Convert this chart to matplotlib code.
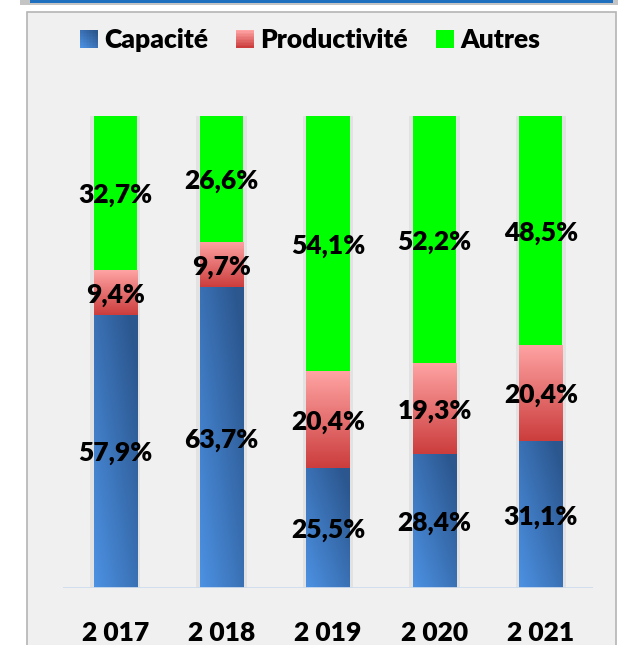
import numpy as np
import matplotlib
matplotlib.use("Agg")
import matplotlib.pyplot as plt
from matplotlib.patches import Rectangle
from matplotlib.legend_handler import HandlerBase

years = ["2 017", "2 018", "2 019", "2 020", "2 021"]
capacite = [57.9, 63.7, 25.5, 28.4, 31.1]
productivite = [9.4, 9.7, 20.4, 19.3, 20.4]
autres = [32.7, 26.6, 54.1, 52.2, 48.5]
series_names = ["Capacité", "Productivité", "Autres"]

plt.rcParams['font.family'] = ['Lato', 'DejaVu Sans']
FS = 19
FW = "heavy"

W, H = 618, 645
fig = plt.figure(figsize=(W / 100, H / 100), dpi=100)
fig.patch.set_facecolor("white")

# panel background and top frame
fig.patches.append(Rectangle((27 / W, -0.01), 589 / W, (645 - 12) / H + 0.01, transform=fig.transFigure,
                             facecolor="#f0f0f0", edgecolor="#b4b4b4", lw=1.2, zorder=-10))
fig.patches.append(Rectangle((20 / W, 1 - 5 / H), 598 / W, 5 / H, transform=fig.transFigure,
                             facecolor="#c4c4c4", edgecolor="none", zorder=-9))
fig.patches.append(Rectangle((30 / W, 1 - 2.5 / H), 583 / W, 2.5 / H, transform=fig.transFigure,
                             facecolor="#1f6fbf", edgecolor="none", zorder=-8))

ax = fig.add_axes([63 / W, (645 - 588) / H, 530 / W, 472 / H])
ax.set_facecolor("none")
ax.set_zorder(1)

x = np.arange(len(years))
bw = 0.405

blue_light = np.array([0.30, 0.57, 0.89])
blue_dark = np.array([0.17, 0.34, 0.56])
pink_top = np.array([1.0, 0.64, 0.64])
red_bot = np.array([0.80, 0.24, 0.24])


def blue_grad(n=64):
    u = np.linspace(0, 1, n)[None, :]
    v = np.linspace(0, 1, n)[:, None]  # 0 top -> 1 bottom (image origin upper)
    t = np.clip(0.55 * u + 0.55 * (1 - v), 0, 1)
    return blue_light[None, None, :] * (1 - t[..., None]) + blue_dark[None, None, :] * t[..., None]


def red_grad(n=64):
    v = np.linspace(0, 1, n)[:, None] * np.ones((1, n))
    return pink_top[None, None, :] * (1 - v[..., None]) + red_bot[None, None, :] * v[..., None]


totals = np.array(capacite) + np.array(productivite) + np.array(autres)
# side shadows
ax.bar(x, totals, bw + 0.07, color="#e2e2e2", zorder=1)

b1 = ax.bar(x, capacite, bw, color="none", zorder=2)
b2 = ax.bar(x, productivite, bw, bottom=capacite, color="none", zorder=2)
b3 = ax.bar(x, autres, bw, bottom=np.array(capacite) + np.array(productivite), color="#00ff00", zorder=2)

for bars, grad in ((b1, blue_grad), (b2, red_grad)):
    for r in bars:
        x0, y0, w, h = r.get_x(), r.get_y(), r.get_width(), r.get_height()
        im = ax.imshow(grad(), extent=(x0, x0 + w, y0, y0 + h), aspect="auto",
                       origin="upper", zorder=2, interpolation="bilinear")
        im.set_clip_path(r)
ax.set_xlim(-0.49, 4.49)
ax.set_ylim(0, 100)
ax.set_aspect("auto")

for bars, vals in ((b1, capacite), (b2, productivite), (b3, autres)):
    for r, v in zip(bars, vals):
        ax.text(r.get_x() + r.get_width() / 2, r.get_y() + r.get_height() / 2,
                f"{v:.1f}%".replace(".", ","), ha="center", va="center_baseline",
                fontsize=FS, fontweight=FW, color="black", zorder=5)

ax.axhline(0, color="#cddcee", lw=2, zorder=3)
for s in ax.spines.values():
    s.set_visible(False)
ax.set_yticks([])
ax.set_xticks(x)
ax.set_xticklabels(years, fontsize=FS, fontweight=FW)
ax.tick_params(axis="x", length=0, pad=24)


class GradHandler(HandlerBase):
    def __init__(self, kind):
        super().__init__()
        self.kind = kind

    def create_artists(self, legend, orig_handle, xdescent, ydescent, width, height, fontsize, trans):
        arts = []
        n = 12
        if self.kind == "blue":
            g = blue_grad(n)
        elif self.kind == "red":
            g = red_grad(n)
        else:
            g = np.ones((n, n, 3)) * np.array([0, 1, 0])
        for i in range(n):
            for j in range(n):
                arts.append(Rectangle((-xdescent + width * j / n, -ydescent + height * (1 - (i + 1) / n)),
                                      width / n * 1.05, height / n * 1.05, facecolor=g[i, j],
                                      edgecolor="none", transform=trans))
        return arts


handles = [Rectangle((0, 0), 1, 1) for _ in range(3)]
leg = fig.legend(handles, series_names, loc="center", bbox_to_anchor=(310 / W, 1 - 40 / H),
                 ncol=3, frameon=False, prop={"size": FS, "weight": FW},
                 handlelength=0.68, handleheight=0.68, handletextpad=0.25, columnspacing=1.05,
                 handler_map={handles[0]: GradHandler("blue"), handles[1]: GradHandler("red"),
                              handles[2]: GradHandler("green")})

fig.savefig("out.png", dpi=100, facecolor="white")
